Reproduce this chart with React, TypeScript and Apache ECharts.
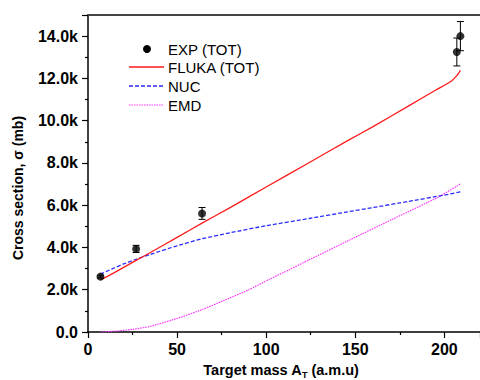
import React, { useEffect, useRef } from "react";
import * as echarts from "echarts";

// Experimental total cross sections: [A, sigma (mb), error (mb)]
const expA = [7, 27, 64, 207, 209];
const expSigma = [2620, 3930, 5610, 13250, 14000];
const expErr = [60, 170, 280, 660, 690];

// FLUKA total
const flukaA = [7, 15, 27, 35, 50, 64, 80, 100, 124, 146, 160, 180, 195, 204, 207, 209];
const flukaV = [2460, 2820, 3390, 3760, 4480, 5150, 5900, 6860, 8010, 9070, 9720, 10700, 11440, 11880, 12130, 12380];

// Nuclear part
const nucA = [7, 15, 20, 27, 35, 50, 64, 80, 100, 124, 146, 160, 180, 200, 209];
const nucV = [2740, 3040, 3220, 3440, 3670, 4080, 4410, 4700, 5030, 5370, 5690, 5890, 6180, 6480, 6630];

// Electromagnetic dissociation
const emdA = [7, 15, 25, 35, 50, 64, 76, 90, 102, 113, 124, 146, 171, 197, 209];
const emdV = [0, 40, 125, 270, 640, 1060, 1480, 1990, 2500, 2950, 3410, 4320, 5340, 6400, 7010];

const xTicks = [0, 50, 100, 150, 200];
const legendNames = ["EXP (TOT)", "FLUKA (TOT)", "NUC", "EMD"];

const FONT = "'Liberation Sans', Arial, Helvetica, sans-serif";
const RED = "#ff1a1a";
const BLUE = "#2b2bff";
const MAGENTA = "#ff33ff";

const zip = (a: number[], b: number[]) => a.map((x, i) => [x, b[i]]);

export default function App() {
  const ref = useRef<HTMLDivElement>(null);
  useEffect(() => {
    if (!ref.current) return;
    const chart = echarts.init(ref.current, null, { renderer: "svg" });
    const legendX = 129;
    const legendTextX = 168;
    const legendY = [49, 67, 86, 105];
    const option: any = {
      animation: false,
      backgroundColor: "#ffffff",
      grid: { left: 88, right: -2, top: 15, bottom: 48 },
      xAxis: [
        {
          type: "value",
          min: 0,
          max: 220,
          interval: 50,
          axisLine: { lineStyle: { color: "#000", width: 1.5 } },
          axisTick: { show: true, length: 6, inside: false, lineStyle: { color: "#000", width: 1.2 } },
          minorTick: { show: true, splitNumber: 2, length: 3, lineStyle: { color: "#000", width: 1.2 } },
          splitLine: { show: false },
          axisLabel: {
            showMaxLabel: false,
            margin: 9,
            fontSize: 16,
            fontWeight: "bold",
            fontFamily: FONT,
            color: "#000",
            formatter: (v: number) => (xTicks.includes(v) ? String(v) : ""),
          },
        },
        {
          type: "value",
          position: "top",
          min: 0,
          max: 220,
          axisLine: { show: true, lineStyle: { color: "#444", width: 2 } },
          axisTick: { show: false },
          axisLabel: { show: false },
          splitLine: { show: false },
        },
      ],
      yAxis: {
        type: "value",
        min: 0,
        max: 15000,
        interval: 2000,
        axisLine: { show: true, lineStyle: { color: "#000", width: 1.5 } },
        axisTick: { show: true, length: 6, lineStyle: { color: "#000", width: 1.2 } },
        minorTick: { show: true, splitNumber: 2, length: 3, lineStyle: { color: "#000", width: 1.2 } },
        splitLine: { show: false },
        axisLabel: {
          showMaxLabel: false,
          margin: 10,
          fontSize: 16,
          fontWeight: "bold",
          fontFamily: FONT,
          color: "#000",
          formatter: (v: number) => (v === 0 ? "0.0" : (v / 1000).toFixed(1) + "k"),
        },
      },
      series: [
        {
          name: "EMD",
          type: "line",
          data: zip(emdA, emdV),
          showSymbol: false,
          smooth: 0.2,
          lineStyle: { color: MAGENTA, width: 1.2, type: [1.5, 1] },
          z: 2,
        },
        {
          name: "NUC",
          type: "line",
          data: zip(nucA, nucV),
          showSymbol: false,
          smooth: 0.2,
          lineStyle: { color: BLUE, width: 1.3, type: [4, 2] },
          z: 3,
        },
        {
          name: "FLUKA (TOT)",
          type: "line",
          data: zip(flukaA, flukaV),
          showSymbol: false,
          smooth: 0.2,
          lineStyle: { color: RED, width: 1.3 },
          z: 4,
        },
        {
          name: "err",
          type: "custom",
          data: expA.map((a, i) => [a, expSigma[i], expErr[i]]),
          renderItem: (params: any, api: any) => {
            const x = api.value(0);
            const y = api.value(1);
            const e = api.value(2);
            const top = api.coord([x, y + e]);
            const bot = api.coord([x, y - e]);
            const hw = 3.5;
            const st = { stroke: "#000", lineWidth: 1 };
            return {
              type: "group",
              children: [
                { type: "line", shape: { x1: top[0], y1: top[1], x2: bot[0], y2: bot[1] }, style: st },
                { type: "line", shape: { x1: top[0] - hw, y1: top[1], x2: top[0] + hw, y2: top[1] }, style: st },
                { type: "line", shape: { x1: bot[0] - hw, y1: bot[1], x2: bot[0] + hw, y2: bot[1] }, style: st },
              ],
            };
          },
          z: 5,
        },
        {
          name: "EXP (TOT)",
          type: "scatter",
          data: zip(expA, expSigma),
          symbol: "circle",
          symbolSize: 8,
          itemStyle: { color: "#000" },
          z: 6,
        },
      ],
      graphic: [
        {
          type: "text",
          x: 18,
          y: 188,
          rotation: Math.PI / 2,
          style: {
            text: "Cross section, σ (mb)",
            fill: "#000",
            font: `bold 14px ${FONT}`,
            textAlign: "center",
            textVerticalAlign: "middle",
          },
        },
        {
          type: "text",
          x: 281,
          y: 362,
          style: {
            text: "{a|Target mass A}{s|T}{a| (a.m.u)}",
            fill: "#000",
            textAlign: "center",
            textVerticalAlign: "top",
            rich: {
              a: { fontSize: 14.5, fontWeight: "bold", fontFamily: FONT, lineHeight: 16, verticalAlign: "top", fill: "#000" },
              s: { fontSize: 9, fontWeight: "bold", fontFamily: FONT, lineHeight: 17, verticalAlign: "bottom", fill: "#000" },
            },
          },
        },
        { type: "circle", shape: { cx: 147, cy: legendY[0], r: 4 }, style: { fill: "#000" } },
        {
          type: "line",
          shape: { x1: legendX, y1: legendY[1], x2: legendX + 35, y2: legendY[1] },
          style: { stroke: RED, lineWidth: 1.3 },
        },
        {
          type: "line",
          shape: { x1: legendX, y1: legendY[2], x2: legendX + 35, y2: legendY[2] },
          style: { stroke: BLUE, lineWidth: 1.3, lineDash: [4, 2] },
        },
        {
          type: "line",
          shape: { x1: legendX, y1: legendY[3], x2: legendX + 35, y2: legendY[3] },
          style: { stroke: MAGENTA, lineWidth: 1.2, lineDash: [1.5, 1] },
        },
        ...legendNames.map((n, i) => ({
          type: "text",
          x: legendTextX,
          y: legendY[i],
          style: {
            text: n,
            fill: "#000",
            font: `15px ${FONT}`,
            textAlign: "left",
            textVerticalAlign: "middle",
          },
        })),
      ],
    };
    chart.setOption(option);
    return () => chart.dispose();
  }, []);
  return <div ref={ref} style={{ position: "absolute", left: 0, top: 0, width: 480, height: 380 }} />;
}
